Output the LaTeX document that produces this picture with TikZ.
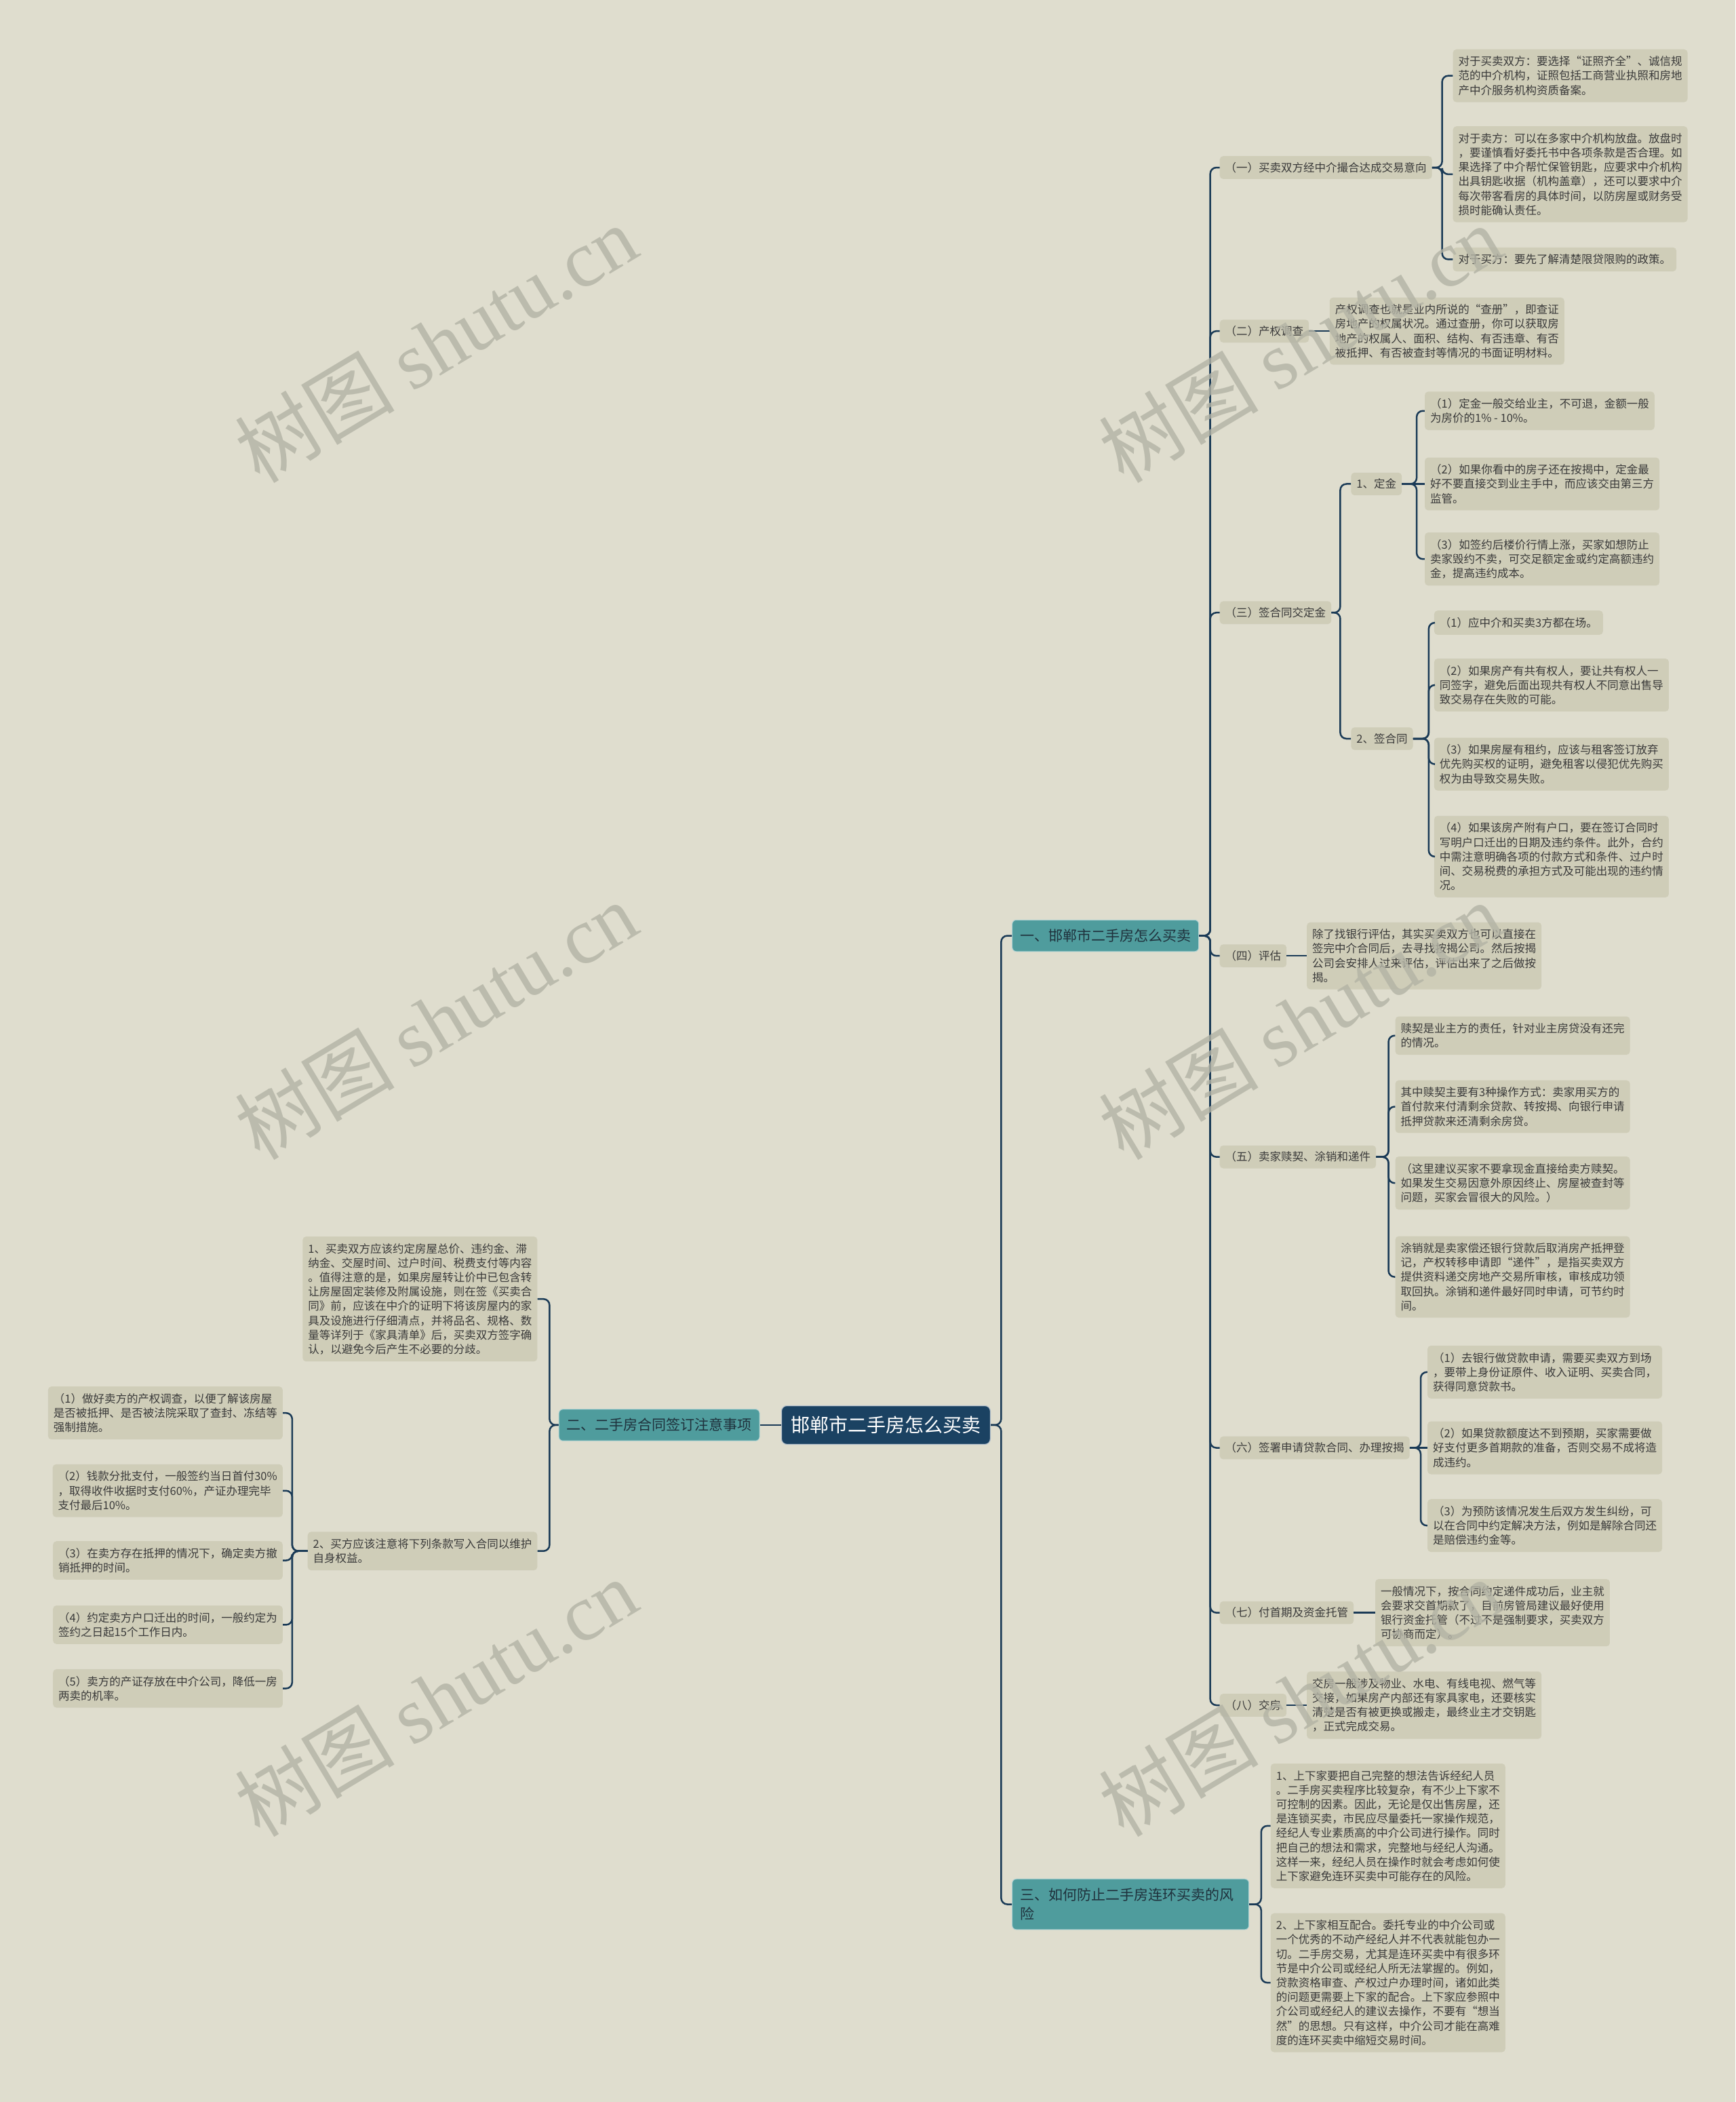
\documentclass[tikz,border=0pt]{standalone}
\usepackage{fontspec}
\setmainfont{Noto Sans CJK SC}
\newfontfamily\wmlatin{Liberation Serif}
\definecolor{bgcol}{HTML}{DFDDCE}
\definecolor{leafcol}{HTML}{CFCDB8}
\definecolor{linecol}{HTML}{1A3A56}
\definecolor{tealcol}{HTML}{4F9C9D}
\definecolor{rootcol}{HTML}{1B4262}
\definecolor{textcol}{HTML}{3A3A3A}
\definecolor{topictext}{HTML}{1F313C}
\definecolor{wmcol}{HTML}{B3B3A5}
\begin{document}
\begin{tikzpicture}[x=1.9766pt,y=-1.9766pt]
\useasboundingbox (0,0) rectangle (1295,1568);
\fill[bgcol] (0,0) rectangle (1295,1568);
\tikzstyle{leafnode} = [rectangle,fill=leafcol,rounded corners=5pt,inner xsep=8pt,inner ysep=10pt,font=\fontsize{16.5}{21.2}\selectfont,align=left,text=textcol,anchor=west]
\tikzstyle{subnode} = [rectangle,fill=leafcol,rounded corners=5pt,inner xsep=8pt,inner ysep=9pt,font=\fontsize{16.5}{21.2}\selectfont,text=textcol,anchor=west]
\tikzstyle{topicnode} = [rectangle,fill=tealcol,draw=white!55!tealcol,line width=1pt,rounded corners=6pt,inner xsep=11.5pt,inner ysep=13.5pt,font=\fontsize{21}{28.3}\selectfont,align=left,text=topictext]
\tikzstyle{rootnode} = [rectangle,fill=rootcol,draw=white!70!rootcol,line width=1.2pt,rounded corners=8pt,inner xsep=14pt,inner ysep=15.5pt,font=\fontsize{28}{34}\selectfont,text=white]
\tikzstyle{link} = [draw=linecol,line width=2.5pt,rounded corners=9pt]
\tikzstyle{wmnode} = [rotate=31,font=\fontsize{118}{118}\selectfont,text=wmcol,text opacity=0.8]
%%%%%%%%%%%%%%%%%%%%%%%%%%%%%
% root and main topics
%%%%%%%%%%%%%%%%%%%%%%%%%%%%%
\node [rootnode] (root) at (661,1063){邯郸市二手房怎么买卖};
\node [topicnode,anchor=west] (l1a) at (755,698){一、邯郸市二手房怎么买卖};
\node [topicnode,anchor=east] (l1b) at (567,1063){二、二手房合同签订注意事项};
\node [topicnode,anchor=west,text width=326pt] (l1c) at (755,1420.5){三、如何防止二手房连环买卖的风\\险};
%%%%%%%%%%%%%%%%%%%%%%%%%%%%%
% 一、邯郸市二手房怎么买卖
%%%%%%%%%%%%%%%%%%%%%%%%%%%%%
\node [subnode] (sa) at (910,125){（一）买卖双方经中介撮合达成交易意向};
\node [leafnode] (a1) at (1084,56.5){对于买卖双方：要选择“证照齐全”、诚信规\\范的中介机构，证照包括工商营业执照和房地\\产中介服务机构资质备案。};
\node [leafnode] (a2) at (1084,130){对于卖方：可以在多家中介机构放盘。放盘时\\，要谨慎看好委托书中各项条款是否合理。如\\果选择了中介帮忙保管钥匙，应要求中介机构\\出具钥匙收据（机构盖章），还可以要求中介\\每次带客看房的具体时间，以防房屋或财务受\\损时能确认责任。};
\node [leafnode] (a3) at (1084,193.5){对于买方：要先了解清楚限贷限购的政策。};
\node [subnode] (sb) at (910,247){（二）产权调查};
\node [leafnode] (b) at (992,247){产权调查也就是业内所说的“查册”，即查证\\房地产的权属状况。通过查册，你可以获取房\\地产的权属人、面积、结构、有否违章、有否\\被抵押、有否被查封等情况的书面证明材料。};
\node [subnode] (sc) at (910,457){（三）签合同交定金};
\node [subnode] (c0) at (1008,361){1、定金};
\node [leafnode] (c1) at (1063,306.5){（1）定金一般交给业主，不可退，金额一般\\为房价的1\% - 10\%。};
\node [leafnode] (c2) at (1063,361){（2）如果你看中的房子还在按揭中，定金最\\好不要直接交到业主手中，而应该交由第三方\\监管。};
\node [leafnode] (c3) at (1063,417){（3）如签约后楼价行情上涨，买家如想防止\\卖家毁约不卖，可交足额定金或约定高额违约\\金，提高违约成本。};
\node [subnode] (d0) at (1008,551){2、签合同};
\node [leafnode] (d1) at (1070,464.5){（1）应中介和买卖3方都在场。};
\node [leafnode] (d2) at (1070,511){（2）如果房产有共有权人，要让共有权人一\\同签字，避免后面出现共有权人不同意出售导\\致交易存在失败的可能。};
\node [leafnode] (d3) at (1070,570){（3）如果房屋有租约，应该与租客签订放弃\\优先购买权的证明，避免租客以侵犯优先购买\\权为由导致交易失败。};
\node [leafnode] (d4) at (1070,639){（4）如果该房产附有户口，要在签订合同时\\写明户口迁出的日期及违约条件。此外，合约\\中需注意明确各项的付款方式和条件、过户时\\间、交易税费的承担方式及可能出现的违约情\\况。};
\node [subnode] (sd) at (910,713){（四）评估};
\node [leafnode] (e) at (975,713){除了找银行评估，其实买卖双方也可以直接在\\签完中介合同后，去寻找按揭公司。然后按揭\\公司会安排人过来评估，评估出来了之后做按\\揭。};
\node [subnode] (se) at (910,863){（五）卖家赎契、涂销和递件};
\node [leafnode] (f1) at (1041,772.5){赎契是业主方的责任，针对业主房贷没有还完\\的情况。};
\node [leafnode] (f2) at (1041,825.5){其中赎契主要有3种操作方式：卖家用买方的\\首付款来付清剩余贷款、转按揭、向银行申请\\抵押贷款来还清剩余房贷。};
\node [leafnode] (f3) at (1041,882.5){（这里建议买家不要拿现金直接给卖方赎契。\\如果发生交易因意外原因终止、房屋被查封等\\问题，买家会冒很大的风险。）};
\node [leafnode] (f4) at (1041,952.5){涂销就是卖家偿还银行贷款后取消房产抵押登\\记，产权转移申请即“递件”，是指买卖双方\\提供资料递交房地产交易所审核，审核成功领\\取回执。涂销和递件最好同时申请，可节约时\\间。};
\node [subnode] (sf) at (910,1080){（六）签署申请贷款合同、办理按揭};
\node [leafnode] (g1) at (1065,1023.5){（1）去银行做贷款申请，需要买卖双方到场\\，要带上身份证原件、收入证明、买卖合同，\\获得同意贷款书。};
\node [leafnode] (g2) at (1065,1080){（2）如果贷款额度达不到预期，买家需要做\\好支付更多首期款的准备，否则交易不成将造\\成违约。};
\node [leafnode] (g3) at (1065,1138){（3）为预防该情况发生后双方发生纠纷，可\\以在合同中约定解决方法，例如是解除合同还\\是赔偿违约金等。};
\node [subnode] (sg) at (910,1203){（七）付首期及资金托管};
\node [leafnode] (h) at (1026,1203){一般情况下，按合同约定递件成功后，业主就\\会要求交首期款了，目前房管局建议最好使用\\银行资金托管（不过不是强制要求，买卖双方\\可协商而定）。};
\node [subnode] (sh) at (910,1272){（八）交房};
\node [leafnode] (i) at (975,1272){交房一般涉及物业、水电、有线电视、燃气等\\交接，如果房产内部还有家具家电，还要核实\\清楚是否有被更换或搬走，最终业主才交钥匙\\，正式完成交易。};
%%%%%%%%%%%%%%%%%%%%%%%%%%%%%
% 三、如何防止二手房连环买卖的风险
%%%%%%%%%%%%%%%%%%%%%%%%%%%%%
\node [leafnode] (j1) at (948,1362){1、上下家要把自己完整的想法告诉经纪人员\\。二手房买卖程序比较复杂，有不少上下家不\\可控制的因素。因此，无论是仅出售房屋，还\\是连锁买卖，市民应尽量委托一家操作规范，\\经纪人专业素质高的中介公司进行操作。同时\\把自己的想法和需求，完整地与经纪人沟通。\\这样一来，经纪人员在操作时就会考虑如何使\\上下家避免连环买卖中可能存在的风险。};
\node [leafnode] (j2) at (948,1479){2、上下家相互配合。委托专业的中介公司或\\一个优秀的不动产经纪人并不代表就能包办一\\切。二手房交易，尤其是连环买卖中有很多环\\节是中介公司或经纪人所无法掌握的。例如，\\贷款资格审查、产权过户办理时间，诸如此类\\的问题更需要上下家的配合。上下家应参照中\\介公司或经纪人的建议去操作，不要有“想当\\然”的思想。只有这样，中介公司才能在高难\\度的连环买卖中缩短交易时间。};
%%%%%%%%%%%%%%%%%%%%%%%%%%%%%
% 二、二手房合同签订注意事项
%%%%%%%%%%%%%%%%%%%%%%%%%%%%%
\node [leafnode,anchor=east] (k1) at (401,969){1、买卖双方应该约定房屋总价、违约金、滞\\纳金、交屋时间、过户时间、税费支付等内容\\。值得注意的是，如果房屋转让价中已包含转\\让房屋固定装修及附属设施，则在签《买卖合\\同》前，应该在中介的证明下将该房屋内的家\\具及设施进行仔细清点，并将品名、规格、数\\量等详列于《家具清单》后，买卖双方签字确\\认，以避免今后产生不必要的分歧。};
\node [leafnode,anchor=east] (k2) at (401,1157){2、买方应该注意将下列条款写入合同以维护\\自身权益。};
\node [leafnode,anchor=east] (m1) at (211,1054){（1）做好卖方的产权调查，以便了解该房屋\\是否被抵押、是否被法院采取了查封、冻结等\\强制措施。};
\node [leafnode,anchor=east] (m2) at (211,1112){（2）钱款分批支付，一般签约当日首付30\%\\，取得收件收据时支付60\%，产证办理完毕\\支付最后10\%。};
\node [leafnode,anchor=east] (m3) at (211,1164){（3）在卖方存在抵押的情况下，确定卖方撤\\销抵押的时间。};
\node [leafnode,anchor=east] (m4) at (211,1212){（4）约定卖方户口迁出的时间，一般约定为\\签约之日起15个工作日内。};
\node [leafnode,anchor=east] (m5) at (211,1259.5){（5）卖方的产证存放在中介公司，降低一房\\两卖的机率。};
%%%%%%%%%%%%%%%%%%%%%%%%%%%%%
% connectors
%%%%%%%%%%%%%%%%%%%%%%%%%%%%%
\draw [link] (l1a.west) -- ++(-8,0) |- (root.east);
\draw [link] (l1c.west) -- ++(-8,0) |- (root.east);
\draw [link] (l1b.east) -- (root.west);
\draw [link] (sa.west) -- ++(-7,0) |- (l1a.east);
\draw [link] (sb.west) -- ++(-7,0) |- (l1a.east);
\draw [link] (sc.west) -- ++(-7,0) |- (l1a.east);
\draw [link] (sd.west) -- ++(-7,0) |- (l1a.east);
\draw [link] (se.west) -- ++(-7,0) |- (l1a.east);
\draw [link] (sf.west) -- ++(-7,0) |- (l1a.east);
\draw [link] (sg.west) -- ++(-7,0) |- (l1a.east);
\draw [link] (sh.west) -- ++(-7,0) |- (l1a.east);
\draw [link] (a1.west) -- ++(-8,0) |- (sa.east);
\draw [link] (a2.west) -- ++(-8,0) |- (sa.east);
\draw [link] (a3.west) -- ++(-8,0) |- (sa.east);
\draw [link] (b.west) -- (sb.east);
\draw [link] (c0.west) -- ++(-8,0) |- (sc.east);
\draw [link] (d0.west) -- ++(-8,0) |- (sc.east);
\draw [link] (c1.west) -- ++(-6,0) |- (c0.east);
\draw [link] (c2.west) -- (c0.east);
\draw [link] (c3.west) -- ++(-6,0) |- (c0.east);
\draw [link] (d1.west) -- ++(-4,0) |- (d0.east);
\draw [link] (d2.west) -- ++(-4,0) |- (d0.east);
\draw [link] (d3.west) -- ++(-4,0) |- (d0.east);
\draw [link] (d4.west) -- ++(-4,0) |- (d0.east);
\draw [link] (e.west) -- (sd.east);
\draw [link] (f1.west) -- ++(-5,0) |- (se.east);
\draw [link] (f2.west) -- ++(-5,0) |- (se.east);
\draw [link] (f3.west) -- ++(-5,0) |- (se.east);
\draw [link] (f4.west) -- ++(-5,0) |- (se.east);
\draw [link] (g1.west) -- ++(-5,0) |- (sf.east);
\draw [link] (g2.west) -- (sf.east);
\draw [link] (g3.west) -- ++(-5,0) |- (sf.east);
\draw [link] (h.west) -- (sg.east);
\draw [link] (i.west) -- (sh.east);
\draw [link] (j1.west) -- ++(-7,0) |- (l1c.east);
\draw [link] (j2.west) -- ++(-7,0) |- (l1c.east);
\draw [link] (k1.east) -- ++(9,0) |- (l1b.west);
\draw [link] (k2.east) -- ++(9,0) |- (l1b.west);
\draw [link] (m1.east) -- ++(7,0) |- (k2.west);
\draw [link] (m2.east) -- ++(7,0) |- (k2.west);
\draw [link] (m3.east) -- ++(7,0) |- (k2.west);
\draw [link] (m4.east) -- ++(7,0) |- (k2.west);
\draw [link] (m5.east) -- ++(7,0) |- (k2.west);
%%%%%%%%%%%%%%%%%%%%%%%%%%%%%
% watermark
%%%%%%%%%%%%%%%%%%%%%%%%%%%%%
\node [wmnode] (wm1) at (325,256){树图 {\wmlatin shutu.cn}};
\node [wmnode] (wm2) at (325,761){树图 {\wmlatin shutu.cn}};
\node [wmnode] (wm3) at (325,1266){树图 {\wmlatin shutu.cn}};
\node [wmnode] (wm4) at (970,256){树图 {\wmlatin shutu.cn}};
\node [wmnode] (wm5) at (970,761){树图 {\wmlatin shutu.cn}};
\node [wmnode] (wm6) at (970,1266){树图 {\wmlatin shutu.cn}};
\end{tikzpicture}
\end{document}
